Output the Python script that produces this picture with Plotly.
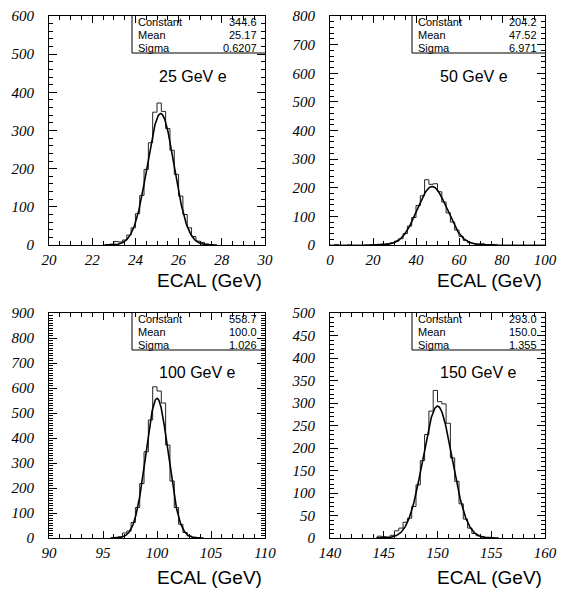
import numpy as np
import plotly.graph_objects as go

# ---------------- data ----------------
titles = ["25 GeV e", "50 GeV e", "100 GeV e", "150 GeV e"]
x_ranges = [[20, 30], [0, 100], [90, 110], [140, 160]]
y_ranges = [[0, 600], [0, 800], [0, 900], [0, 500]]

# fit parameters (from the stats boxes)
fit_constant = [344.6, 204.2, 558.7, 293.0]
fit_mean = [25.17, 47.52, 100.0, 150.0]
fit_sigma = [0.6207, 6.971, 1.026, 1.355]
const_txt = ["344.6", "204.2", "558.7", "293.0"]
mean_txt = ["25.17", "47.52", "100.0", "150.0"]
sigma_txt = ["0.6207", "6.971", "1.026", "1.355"]

# histogram: first bin edge, bin width, counts
h1_start, h1_width = 22.6, 0.2
h1_counts = [1, 2, 9, 8, 13, 26, 45, 82, 130, 198, 268, 348, 372, 350, 305,
             248, 185, 128, 80, 45, 22, 10, 7, 3, 1]

h2_start, h2_width = 0.0, 2.0
h2_counts = [0, 2, 0, 0, 1, 0, 0, 0, 1, 0, 0, 2, 3, 5, 8, 13, 22, 40, 66, 96,
             138, 172, 228, 212, 214, 186, 150, 112, 80, 52, 30, 16, 8, 5, 3, 4,
             1, 0, 2, 0, 0, 0, 0, 0, 0, 0, 0, 0, 0, 0]

h3_start, h3_width = 96.0, 0.4
h3_counts = [2, 5, 20, 28, 62, 122, 218, 345, 472, 605, 588, 540, 372, 228, 122,
             55, 22, 8, 3, 1]

h4_start, h4_width = 144.4, 0.4
h4_counts = [4, 3, 2, 6, 16, 22, 35, 44, 70, 118, 172, 230, 282, 328, 303, 298,
             255, 178, 126, 76, 42, 22, 10, 5, 2, 1]

hist_starts = [h1_start, h2_start, h3_start, h4_start]
hist_widths = [h1_width, h2_width, h3_width, h4_width]
hist_counts = [h1_counts, h2_counts, h3_counts, h4_counts]

x_label_step = [2, 20, 5, 5]
x_minor_step = [0.5, 5, 1, 1]
y_label_step = [100, 100, 100, 50]
y_minor_step = [20, 20, 10, 10]

# ---------------- layout geometry ----------------
W, H = 561, 592
x_dom = [[49 / W, 265 / W], [330 / W, 545 / W], [49 / W, 265 / W], [330 / W, 545 / W]]
top_dom = [1 - 245 / H, 1 - 16 / H]
bot_dom = [1 - 538 / H, 1 - 313 / H]
y_dom = [top_dom, top_dom, bot_dom, bot_dom]

serif = "'Liberation Serif', 'DejaVu Serif', 'Times New Roman', serif"
tick_font = dict(family=serif, size=15, style="italic", color="black")
sans = "Liberation Sans"

fig = go.Figure()
shapes = []
annotations = []

for i in range(4):
    ax = "" if i == 0 else str(i + 1)
    xa, ya = "x" + ax, "y" + ax
    start, width, counts = hist_starts[i], hist_widths[i], hist_counts[i]
    edges = [start + width * k for k in range(len(counts) + 1)]
    ys = list(counts) + [counts[-1]]
    xs_step = [edges[0]] + edges + [edges[-1]]
    ys_step = [0] + ys + [0]
    fig.add_trace(go.Scatter(x=xs_step, y=ys_step, mode="lines", line_shape="hv",
                             line=dict(color="#222", width=1), xaxis=xa, yaxis=ya,
                             hoverinfo="skip"))
    # gaussian fit curve from the displayed parameters
    m, s, c = fit_mean[i], fit_sigma[i], fit_constant[i]
    lo = max(x_ranges[i][0], m - 4.2 * s)
    hi = min(x_ranges[i][1], m + 4.2 * s)
    xf = np.linspace(lo, hi, 300)
    yf = c * np.exp(-0.5 * ((xf - m) / s) ** 2)
    fig.add_trace(go.Scatter(x=xf, y=yf, mode="lines",
                             line=dict(color="black", width=1.6), xaxis=xa, yaxis=ya,
                             hoverinfo="skip"))

    x0, x1 = x_ranges[i]
    xt = list(np.arange(x0, x1 + 1e-9, x_label_step[i]))
    xaxis = dict(domain=x_dom[i], range=x_ranges[i], anchor=ya, automargin=False,
                 showline=True, linecolor="black", linewidth=1, mirror="ticks",
                 ticks="inside", ticklen=7, tickwidth=1, tickcolor="black",
                 tickvals=xt, ticktext=[f"{v:g}" for v in xt],
                 minor=dict(ticks="inside", ticklen=4, dtick=x_minor_step[i],
                            tick0=x0, tickcolor="black", tickwidth=1, showgrid=False),
                 showgrid=False, zeroline=False, tickfont=tick_font,
                 ticklabelstandoff=1)
    y0, y1 = y_ranges[i]
    yt = list(range(y0, y1 + 1, y_label_step[i]))
    yaxis = dict(domain=y_dom[i], range=y_ranges[i], anchor=xa, automargin=False,
                 showline=True, linecolor="black", linewidth=1, mirror="ticks",
                 ticks="inside", ticklen=8, tickwidth=1, tickcolor="black",
                 tickvals=yt, ticktext=[str(v) for v in yt],
                 minor=dict(ticks="inside", ticklen=4, dtick=y_minor_step[i],
                            tick0=0, tickcolor="black", tickwidth=1, showgrid=False),
                 showgrid=False, zeroline=False, tickfont=tick_font,
                 ticklabelstandoff=11)
    fig.update_layout(**{"xaxis" + ax: xaxis, "yaxis" + ax: yaxis})

    # stats box
    dom_h = (y_dom[i][1] - y_dom[i][0]) * H
    dom_w = (x_dom[i][1] - x_dom[i][0]) * W
    bx = 1 - 133 / dom_w
    by = 1 - 37 / dom_h
    xr, yr = xa + " domain", ya + " domain"
    shapes.append(dict(type="line", xref=xr, yref=yr, x0=bx, x1=bx, y0=by, y1=1,
                       line=dict(color="black", width=1)))
    shapes.append(dict(type="line", xref=xr, yref=yr, x0=bx, x1=1, y0=by, y1=by,
                       line=dict(color="black", width=1)))
    rows = [("Constant", const_txt[i]), ("Mean", mean_txt[i]), ("Sigma", sigma_txt[i])]
    for r, (name, val) in enumerate(rows):
        yy = 1 - (6 + 13 * r) / dom_h
        annotations.append(dict(text=name, xref=xr, yref=yr, x=bx, y=yy,
                                xanchor="left", yanchor="middle", xshift=4,
                                showarrow=False,
                                font=dict(family=sans, size=11, color="black")))
        annotations.append(dict(text=val, xref=xr, yref=yr, x=1, y=yy,
                                xanchor="right", yanchor="middle", xshift=-6,
                                showarrow=False,
                                font=dict(family=sans, size=11, color="black")))
    # energy label
    annotations.append(dict(text=titles[i], xref=xr, yref=yr, x=0.5, y=0.735,
                            xanchor="left", yanchor="middle", showarrow=False,
                            font=dict(family=sans, size=16, color="black")))
    # x axis title
    ty = 1 - (280 / H) if i < 2 else 1 - (577 / H)
    annotations.append(dict(text="ECAL (GeV)", xref=xr, yref="paper", x=1, y=ty,
                            xanchor="right", yanchor="middle", xshift=-1,
                            showarrow=False,
                            font=dict(family=sans, size=19, color="black")))

fig.update_layout(width=W, height=H, margin=dict(l=0, r=0, t=0, b=0),
                  font=dict(family=serif, color="black"),
                  paper_bgcolor="white", plot_bgcolor="white", showlegend=False,
                  shapes=shapes, annotations=annotations)

fig.write_html("out.html", config={"displayModeBar": False},
               post_script="document.body.style.margin='0px';"
                           "document.body.style.overflow='hidden';")
